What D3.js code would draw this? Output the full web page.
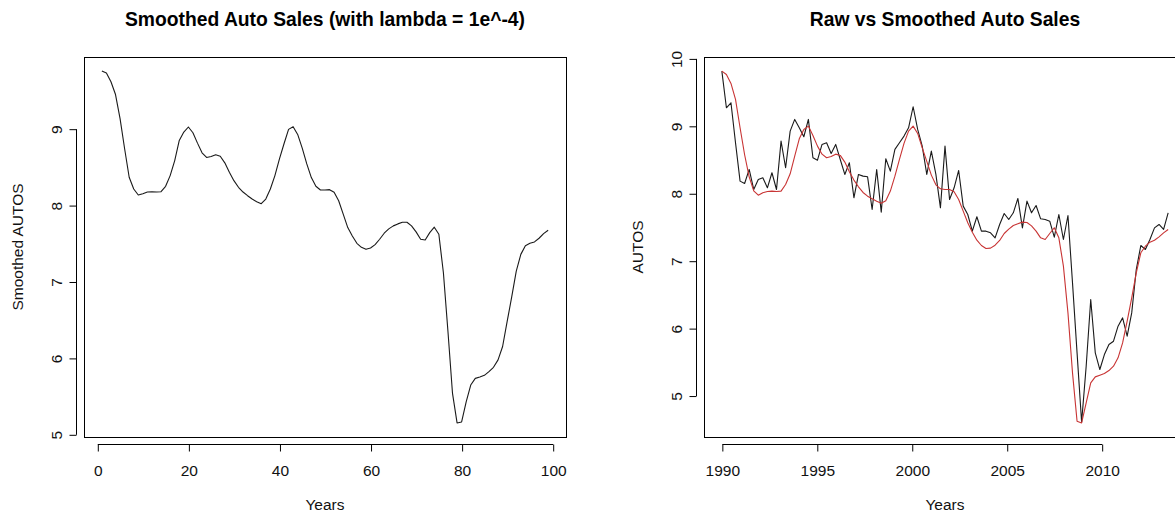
<!DOCTYPE html>
<html>
<head>
<meta charset="utf-8">
<script src="https://cdn.jsdelivr.net/npm/d3@7"></script>
<style>
  html, body { margin: 0; padding: 0; background: #fff; }
  svg { display: block; font-family: "Liberation Sans", Arial, sans-serif; }
</style>
</head>
<body>
<svg id="chart" width="1175" height="512"></svg>
<script>
// HP-filtered auto sales (lambda = 1e^-4), observation index 1..99
const smoothedAutos = [
  9.754, 9.728, 9.614, 9.447, 9.132, 8.737, 8.364, 8.211, 8.132, 8.149,
  8.171, 8.175, 8.171, 8.175, 8.246, 8.386, 8.583, 8.846, 8.956, 9.022,
  8.947, 8.811, 8.684, 8.623, 8.636, 8.658, 8.640, 8.553, 8.430, 8.320,
  8.233, 8.171, 8.123, 8.079, 8.044, 8.018, 8.079, 8.211, 8.386, 8.605,
  8.803, 8.991, 9.026, 8.925, 8.746, 8.539, 8.360, 8.246, 8.197, 8.197,
  8.202, 8.167, 8.057, 7.882, 7.706, 7.596, 7.500, 7.447, 7.421, 7.439,
  7.482, 7.553, 7.632, 7.689, 7.728, 7.754, 7.776, 7.776, 7.728, 7.649,
  7.553, 7.544, 7.640, 7.711, 7.618, 7.114, 6.346, 5.535, 5.149, 5.162,
  5.425, 5.645, 5.732, 5.750, 5.772, 5.820, 5.877, 5.974, 6.149, 6.478,
  6.798, 7.136, 7.355, 7.469, 7.500, 7.518, 7.566, 7.627, 7.671
];

// Raw AUTOS series
const rawAutos = [
  9.812, 9.268, 9.342, 8.749, 8.180, 8.145, 8.353, 8.056, 8.205, 8.229,
  8.081, 8.304, 8.056, 8.773, 8.378, 8.922, 9.095, 8.971, 8.838, 9.095,
  8.526, 8.491, 8.724, 8.749, 8.590, 8.724, 8.501, 8.279, 8.452, 7.933,
  8.279, 8.254, 8.244, 7.759, 8.353, 7.720, 8.511, 8.328, 8.650, 8.749,
  8.848, 8.971, 9.283, 8.946, 8.699, 8.279, 8.625, 8.279, 7.784, 8.699,
  7.908, 8.081, 8.338, 7.809, 7.685, 7.438, 7.651, 7.438, 7.438, 7.413,
  7.339, 7.537, 7.700, 7.611, 7.710, 7.923, 7.487, 7.883, 7.710, 7.819,
  7.621, 7.611, 7.586, 7.349, 7.685, 7.314, 7.670, 6.671, 5.633, 4.604,
  5.435, 6.424, 5.633, 5.386, 5.608, 5.757, 5.806, 6.029, 6.152, 5.880,
  6.226, 6.869, 7.225, 7.166, 7.314, 7.487, 7.537, 7.463, 7.710
];

// Smoothed series drawn over the raw one
const trendAutos = [
  9.812, 9.762, 9.629, 9.392, 8.971, 8.571, 8.244, 8.036, 7.972, 8.007,
  8.027, 8.032, 8.027, 8.032, 8.130, 8.289, 8.551, 8.808, 8.946, 8.996,
  8.857, 8.699, 8.580, 8.526, 8.546, 8.580, 8.561, 8.462, 8.318, 8.195,
  8.096, 8.012, 7.957, 7.918, 7.883, 7.853, 7.888, 8.032, 8.254, 8.501,
  8.739, 8.922, 8.996, 8.887, 8.674, 8.472, 8.269, 8.125, 8.066, 8.056,
  8.056, 8.022, 7.908, 7.735, 7.562, 7.423, 7.304, 7.225, 7.181, 7.186,
  7.230, 7.300, 7.403, 7.468, 7.522, 7.547, 7.572, 7.567, 7.517, 7.438,
  7.339, 7.314, 7.403, 7.488, 7.339, 6.919, 6.226, 5.336, 4.619, 4.594,
  4.891, 5.188, 5.277, 5.302, 5.326, 5.371, 5.435, 5.559, 5.781, 6.103,
  6.449, 6.820, 7.117, 7.215, 7.275, 7.304, 7.354, 7.413, 7.463
];

// Time axis of the right-hand panel
const startYear = 1990;
const endYear = 2013.5;
const years = rawAutos.map((_, i) => startYear + i * (endYear - startYear) / (rawAutos.length - 1));

// Tick labels
const leftXTicks = [0, 20, 40, 60, 80, 100];
const leftYTicks = [5, 6, 7, 8, 9];
const rightXTicks = [1990, 1995, 2000, 2005, 2010];
const rightYTicks = [5, 6, 7, 8, 9, 10];

const svg = d3.select("#chart");
const FONT = 15.5;

// base-graphics style padded extent (4% each side)
function padded(arr) {
  const [lo, hi] = d3.extent(arr);
  const p = (hi - lo) * 0.04;
  return [lo - p, hi + p];
}

function panel(opts) {
  const { left, top, width, height, xDomain, yDomain, xTicks, yTicks,
          title, xLabel, yLabel, series } = opts;
  const x = d3.scaleLinear().domain(xDomain).range([left, left + width]);
  const y = d3.scaleLinear().domain(yDomain).range([top + height, top]);
  const g = svg.append("g");

  // series
  series.forEach(s => {
    const line = d3.line().x((d, i) => x(s.x[i])).y(d => y(d));
    g.append("path")
      .datum(s.y)
      .attr("fill", "none")
      .attr("stroke", s.color)
      .attr("stroke-width", 1.1)
      .attr("stroke-linejoin", "round")
      .attr("d", line);
  });

  // frame
  g.append("rect")
    .attr("x", left + 0.5).attr("y", top + 0.5)
    .attr("width", width).attr("height", height)
    .attr("fill", "none").attr("stroke", "#000").attr("stroke-width", 1);

  // bottom axis
  const xa = d3.axisBottom(x).tickValues(xTicks).tickSize(7).tickPadding(13)
    .tickFormat(d3.format("d"));
  const gx = g.append("g").attr("transform", `translate(0.5,${top + height + 7.5})`).call(xa);
  gx.select(".domain").attr("d", `M${x(xTicks[0])},0H${x(xTicks[xTicks.length - 1])}`);
  gx.selectAll(".tick line").attr("y1", 0).attr("y2", 7);
  gx.selectAll("text").attr("font-size", FONT).attr("fill", "#111")
    .attr("font-family", "Liberation Sans, Arial, sans-serif");

  // left axis with rotated labels
  const ya = d3.axisLeft(y).tickValues(yTicks).tickSize(7).tickFormat(d3.format("d"));
  const gy = g.append("g").attr("transform", `translate(${left - 7.5},0.5)`).call(ya);
  gy.select(".domain").attr("d", `M0,${y(yTicks[0])}V${y(yTicks[yTicks.length - 1])}`);
  gy.selectAll(".tick line").attr("x1", 0).attr("x2", -7);
  gy.selectAll(".tick text")
    .attr("font-size", FONT).attr("fill", "#111")
    .attr("font-family", "Liberation Sans, Arial, sans-serif")
    .attr("x", null).attr("dy", null)
    .attr("text-anchor", "middle")
    .attr("transform", "translate(-14.5,0) rotate(-90)");

  // titles
  g.append("text")
    .attr("x", left + width / 2).attr("y", 26)
    .attr("text-anchor", "middle").attr("font-weight", "bold")
    .attr("font-size", 19.3).attr("fill", "#000").text(title);
  g.append("text")
    .attr("x", left + width / 2).attr("y", 510)
    .attr("text-anchor", "middle").attr("font-size", FONT).attr("fill", "#111").text(xLabel);
  g.append("text")
    .attr("transform", `translate(${left - 61},${top + height / 2}) rotate(-90)`)
    .attr("text-anchor", "middle").attr("font-size", FONT).attr("fill", "#111").text(yLabel);
}

const idx = smoothedAutos.map((_, i) => i + 1);

panel({
  left: 84, top: 57, width: 482, height: 380,
  xDomain: padded(idx), yDomain: padded(smoothedAutos),
  xTicks: leftXTicks, yTicks: leftYTicks,
  title: "Smoothed Auto Sales (with lambda = 1e^-4)",
  xLabel: "Years", yLabel: "Smoothed AUTOS",
  series: [{ x: idx, y: smoothedAutos, color: "#1a1a1a" }]
});

panel({
  left: 704, top: 57, width: 482, height: 380,
  xDomain: padded(years), yDomain: padded(rawAutos.concat(trendAutos)),
  xTicks: rightXTicks, yTicks: rightYTicks,
  title: "Raw vs Smoothed Auto Sales",
  xLabel: "Years", yLabel: "AUTOS",
  series: [
    { x: years, y: rawAutos, color: "#1a1a1a" },
    { x: years, y: trendAutos, color: "#c83434" }
  ]
});
</script>
</body>
</html>
